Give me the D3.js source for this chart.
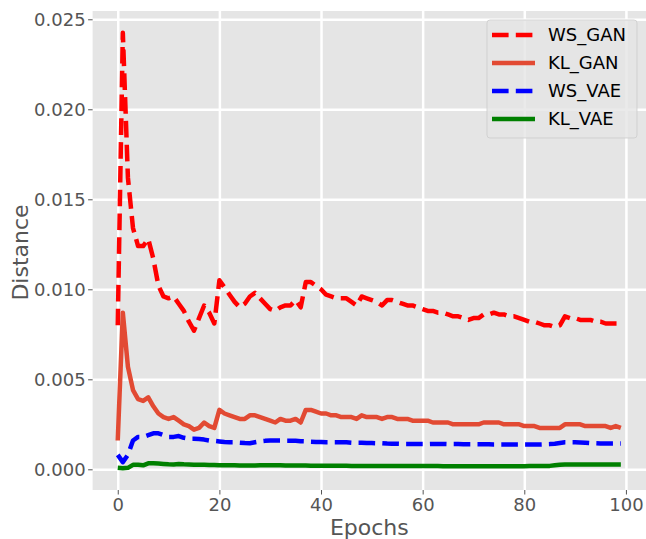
<!DOCTYPE html>
<html>
  <head>
    <meta charset="utf-8">
    <title>Distance per epoch</title>
    <script src="https://cdn.jsdelivr.net/npm/d3@7"></script>
    <style>
      body { margin: 0; background: #fff; }
      svg { font-family: "DejaVu Sans", sans-serif; }
    </style>
  </head>
  <body>
    <script>
      // values, one per epoch (0..99)
      var wsGan = [
        0.0080, 0.02425, 0.0162, 0.0134, 0.0124, 0.0124, 0.0128, 0.0117, 0.0102, 0.0096,
        0.0095, 0.0096, 0.0092, 0.0088, 0.0082, 0.0077, 0.0084, 0.0091, 0.0087, 0.0081,
        0.0105, 0.0101, 0.0097, 0.0093, 0.0090, 0.0092, 0.0096, 0.0098, 0.0095, 0.0092,
        0.0089, 0.0088, 0.0090, 0.0091, 0.0091, 0.0094, 0.0090, 0.0104, 0.0104, 0.0102,
        0.0100, 0.0097, 0.0096, 0.0095, 0.0095, 0.0095, 0.0093, 0.0091, 0.0096, 0.0095,
        0.0094, 0.0093, 0.0091, 0.0094, 0.0094, 0.0093, 0.0092, 0.0091, 0.0091, 0.0090,
        0.0089, 0.0088, 0.0088, 0.0087, 0.0087, 0.0086, 0.0085, 0.0085, 0.0084, 0.0083,
        0.0084, 0.0084, 0.0086, 0.0086, 0.0087, 0.0086, 0.0086, 0.0085, 0.0085, 0.0084,
        0.0083, 0.0082, 0.0082, 0.0081, 0.0080, 0.0080, 0.0079, 0.0080, 0.0085, 0.0084,
        0.0084, 0.0083, 0.0083, 0.0083, 0.0082, 0.0082, 0.0081, 0.0081, 0.0081, 0.0081
      ];
      var klGan = [
        0.0016, 0.0087, 0.0057, 0.0044, 0.0039, 0.0038, 0.0040, 0.0035, 0.0031, 0.0029,
        0.0028, 0.0029, 0.0027, 0.0025, 0.0024, 0.0022, 0.0023, 0.0026, 0.0024, 0.0023,
        0.0033, 0.0031, 0.0030, 0.0029, 0.0028, 0.0028, 0.0030, 0.0030, 0.0029, 0.0028,
        0.0027, 0.0026, 0.0028, 0.0027, 0.0027, 0.0028, 0.0026, 0.0033, 0.0033, 0.0032,
        0.0031, 0.0031, 0.0030, 0.0030, 0.0029, 0.0029, 0.0029, 0.0028, 0.0030, 0.0029,
        0.0029, 0.0029, 0.0028, 0.0029, 0.0029, 0.0028, 0.0028, 0.0028, 0.0027, 0.0027,
        0.0027, 0.0027, 0.0026, 0.0026, 0.0026, 0.0026, 0.0025, 0.0025, 0.0025, 0.0025,
        0.0025, 0.0025, 0.0026, 0.0026, 0.0026, 0.0026, 0.0025, 0.0025, 0.0025, 0.0025,
        0.0024, 0.0024, 0.0024, 0.0023, 0.0023, 0.0023, 0.0023, 0.0023, 0.0025, 0.0025,
        0.0025, 0.0025, 0.0024, 0.0024, 0.0024, 0.0024, 0.0024, 0.0023, 0.0024, 0.0023
      ];
      var wsVae = [
        0.00080, 0.00040, 0.00080, 0.00160, 0.00180, 0.00180, 0.00190, 0.00200, 0.00200, 0.00190,
        0.00180, 0.00180, 0.00185, 0.00175, 0.00170, 0.00170, 0.00168, 0.00165, 0.00160, 0.00158,
        0.00155, 0.00152, 0.00150, 0.00150, 0.00148, 0.00146, 0.00145, 0.00150, 0.00155, 0.00158,
        0.00160, 0.00160, 0.00160, 0.00158, 0.00158, 0.00158, 0.00156, 0.00155, 0.00153, 0.00152,
        0.00152, 0.00150, 0.00150, 0.00150, 0.00150, 0.00150, 0.00148, 0.00148, 0.00148, 0.00146,
        0.00146, 0.00145, 0.00145, 0.00143, 0.00142, 0.00142, 0.00141, 0.00141, 0.00141, 0.00140,
        0.00140, 0.00140, 0.00141, 0.00141, 0.00141, 0.00140, 0.00140, 0.00140, 0.00139, 0.00139,
        0.00139, 0.00139, 0.00139, 0.00139, 0.00138, 0.00138, 0.00138, 0.00138, 0.00138, 0.00138,
        0.00138, 0.00138, 0.00138, 0.00138, 0.00139, 0.00140, 0.00142, 0.00146, 0.00150, 0.00150,
        0.00150, 0.00149, 0.00148, 0.00146, 0.00145, 0.00144, 0.00144, 0.00143, 0.00143, 0.00143
      ];
      var klVae = [
        0.00008, 0.00006, 0.00008, 0.00025, 0.00025, 0.00022, 0.00033, 0.00033, 0.00032, 0.00030,
        0.00028, 0.00027, 0.00030, 0.00028, 0.00027, 0.00026, 0.00025, 0.00025, 0.00024, 0.00024,
        0.00023, 0.00023, 0.00022, 0.00022, 0.00021, 0.00021, 0.00021, 0.00021, 0.00022, 0.00022,
        0.00022, 0.00022, 0.00022, 0.00021, 0.00021, 0.00021, 0.00021, 0.00021, 0.00020, 0.00020,
        0.00020, 0.00020, 0.00020, 0.00020, 0.00020, 0.00020, 0.00019, 0.00019, 0.00019, 0.00019,
        0.00019, 0.00019, 0.00019, 0.00018, 0.00018, 0.00018, 0.00018, 0.00018, 0.00018, 0.00018,
        0.00018, 0.00018, 0.00018, 0.00018, 0.00017, 0.00017, 0.00017, 0.00017, 0.00017, 0.00017,
        0.00017, 0.00017, 0.00017, 0.00017, 0.00017, 0.00017, 0.00017, 0.00017, 0.00017, 0.00017,
        0.00017, 0.00018, 0.00018, 0.00018, 0.00018, 0.00019, 0.00022, 0.00025, 0.00027, 0.00027,
        0.00027, 0.00027, 0.00027, 0.00027, 0.00027, 0.00027, 0.00027, 0.00027, 0.00027, 0.00027
      ];
      var seriesNames = ["WS_GAN", "KL_GAN", "WS_VAE", "KL_VAE"];
      var xTicks = [0, 20, 40, 60, 80, 100];
      var yTicks = [0, 0.005, 0.010, 0.015, 0.020, 0.025];

      var width = 646, height = 539;
      // plot area edges (window.top is reserved, so no "top" here)
      var plotL = 92.6, plotR = 646, plotT = 11, plotB = 490;

      var series = [
        { name: seriesNames[0], values: wsGan, color: "#ff0000", dash: "16.6,7.2" },
        { name: seriesNames[1], values: klGan, color: "#e24a33", dash: null },
        { name: seriesNames[2], values: wsVae, color: "#0000ff", dash: "16.6,7.2" },
        { name: seriesNames[3], values: klVae, color: "#008000", dash: null }
      ];

      // matplotlib style 5% margins on both axes
      var n = wsGan.length;
      var xPad = (n - 1) * 0.05;
      var all = d3.merge(series.map(function (s) { return s.values; }));
      var yMin = d3.min(all), yMax = d3.max(all);
      var yPad = (yMax - yMin) * 0.05;

      var x = d3.scaleLinear().domain([-xPad, n - 1 + xPad]).range([plotL, plotR]);
      var y = d3.scaleLinear().domain([yMin - yPad, yMax + yPad]).range([plotB, plotT]);

      var svg = d3.select("body").append("svg")
          .attr("width", width)
          .attr("height", height);

      svg.append("rect")
          .attr("x", plotL).attr("y", plotT)
          .attr("width", plotR - plotL).attr("height", plotB - plotT)
          .attr("fill", "#e5e5e5");

      // grid
      svg.append("g")
          .attr("transform", "translate(0," + plotB + ")")
          .call(d3.axisBottom(x).tickValues(xTicks).tickSize(-(plotB - plotT)).tickFormat(""))
          .call(function (g) {
            g.select(".domain").remove();
            g.selectAll("line").attr("stroke", "#fff").attr("stroke-width", 2.5);
          });
      svg.append("g")
          .attr("transform", "translate(" + plotL + ",0)")
          .call(d3.axisLeft(y).tickValues(yTicks).tickSize(-(plotR - plotL)).tickFormat(""))
          .call(function (g) {
            g.select(".domain").remove();
            g.selectAll("line").attr("stroke", "#fff").attr("stroke-width", 2.5);
          });

      svg.append("clipPath").attr("id", "plot")
        .append("rect")
          .attr("x", plotL).attr("y", plotT)
          .attr("width", plotR - plotL).attr("height", plotB - plotT);

      var line = d3.line()
          .x(function (d, i) { return x(i); })
          .y(function (d) { return y(d); });

      svg.append("g").attr("clip-path", "url(#plot)")
        .selectAll("path")
        .data(series)
        .enter()
        .append("path")
          .attr("d", function (s) { return line(s.values); })
          .attr("fill", "none")
          .attr("stroke", function (s) { return s.color; })
          .attr("stroke-width", 4.5)
          .attr("stroke-linejoin", "round")
          .attr("stroke-dasharray", function (s) { return s.dash; });

      // axes
      svg.append("g")
          .attr("transform", "translate(0," + plotB + ")")
          .call(d3.axisBottom(x).tickValues(xTicks).tickSize(4.5).tickPadding(3.4).tickFormat(d3.format("d")))
          .call(function (g) {
            g.select(".domain").remove();
            g.selectAll("line").attr("stroke", "#555");
            g.selectAll("text").attr("fill", "#555").attr("font-size", 18)
              .attr("font-family", "DejaVu Sans");
          });
      svg.append("g")
          .attr("transform", "translate(" + plotL + ",0)")
          .call(d3.axisLeft(y).tickValues(yTicks).tickSize(4.5).tickPadding(2.5).tickFormat(d3.format(".3f")))
          .call(function (g) {
            g.select(".domain").remove();
            g.selectAll("line").attr("stroke", "#555");
            g.selectAll("text").attr("fill", "#555").attr("font-size", 18)
              .attr("font-family", "DejaVu Sans");
          });

      svg.append("text")
          .attr("x", (plotL + plotR) / 2)
          .attr("y", 534.5)
          .attr("text-anchor", "middle")
          .attr("font-size", 22)
          .attr("fill", "#555")
          .text("Epochs");

      svg.append("text")
          .attr("transform", "translate(27.5," + ((plotT + plotB) / 2 + 2) + ") rotate(-90)")
          .attr("text-anchor", "middle")
          .attr("font-size", 22)
          .attr("fill", "#555")
          .text("Distance");

      // legend
      var legend = svg.append("g");
      legend.append("rect")
          .attr("x", 487).attr("y", 20)
          .attr("width", 150).attr("height", 118)
          .attr("rx", 3)
          .attr("fill", "#e5e5e5")
          .attr("fill-opacity", 0.8)
          .attr("stroke", "#cccccc")
          .attr("stroke-opacity", 0.8);

      var items = legend.selectAll("g.item")
          .data(series)
          .enter()
          .append("g")
          .attr("class", "item")
          .attr("transform", function (d, i) { return "translate(0," + (35 + i * 28) + ")"; });

      items.append("line")
          .attr("x1", 492).attr("x2", 535)
          .attr("stroke", function (s) { return s.color; })
          .attr("stroke-width", 4.5)
          .attr("stroke-dasharray", function (s) { return s.dash; });

      items.append("text")
          .attr("x", 548)
          .attr("dy", "0.36em")
          .attr("font-size", 18)
          .attr("fill", "#000")
          .text(function (s) { return s.name; });
    </script>
  </body>
</html>
